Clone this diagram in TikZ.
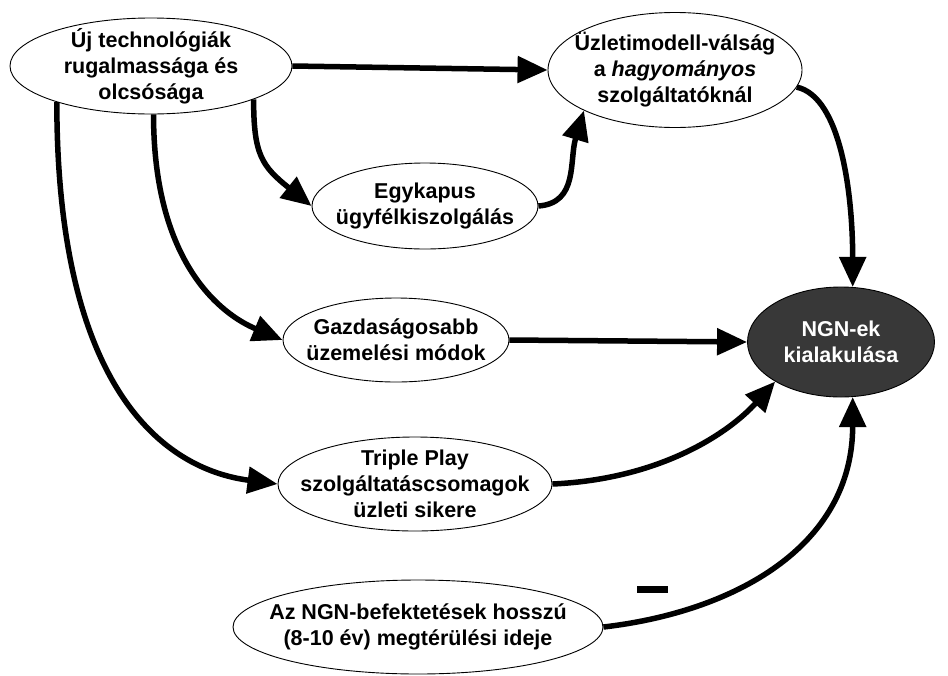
\documentclass[tikz,border=0pt]{standalone}
\usepackage{fontspec}
\setmainfont{Liberation Sans}
\usetikzlibrary{shapes.geometric,arrows.meta}
\begin{document}
\begin{tikzpicture}[x=1pt,y=1pt,
  bub/.style={ellipse,draw=black,line width=0.9pt,fill=white,inner xsep=-30pt,inner ysep=-15pt,align=center,
              font=\fontsize{21.5}{26}\selectfont\bfseries},
  con/.style={line width=5.5pt,-{Triangle[length=30pt,width=26pt]}},
  minusbar/.style={fill=black,inner sep=0pt,minimum width=31pt,minimum height=7pt},
]
\useasboundingbox (0,0) rectangle (948,-675);
\node[bub,minimum width=282pt,minimum height=96pt] (n1) at (151,-66)
  {Új technológiák\\rugalmassága és\\olcsósága};
\node[bub,minimum width=254pt,minimum height=115pt] (n2) at (675,-70)
  {Üzletimodell-válság\\a {\itshape hagyományos}\\szolgáltatóknál};
\node[bub,minimum width=226pt,minimum height=86pt] (n3) at (425,-206)
  {Egykapus\\ügyfélkiszolgálás};
\node[bub,minimum width=226pt,minimum height=84pt] (n4) at (396,-340)
  {Gazdaságosabb\\üzemelési módok};
\node[bub,minimum width=274pt,minimum height=94pt] (n5) at (415,-484)
  {Triple Play\\szolgáltatáscsomagok\\üzleti sikere};
\node[bub,minimum width=187pt,minimum height=110pt,fill=black!78,text=white] (n6) at (841,-342)
  {NGN-ek\\kialakulása};
\node[bub,minimum width=370pt,minimum height=94pt] (n7) at (418,-627)
  {Az NGN-befektetések hosszú\\(8-10 év) megtérülési ideje};
\node[minusbar] (minus) at (652,-589) {};

\draw[con] (n1.east) -- (n2.west);
\draw[con] (n1.-18) .. controls +(0,-55) and +(-50,40) .. (n3.west);
\draw[con] (n3.east) .. controls +(40,3) and +(-15,-50) .. (n2.-156);
\draw[con] (n1.-87) .. controls +(0,-150) and +(-60,25) .. (n4.west);
\draw[con] (n1.-159) .. controls +(0,-285) and +(-115,15) .. (n5.west);
\draw[con] (n4.east) -- (n6.west);
\draw[con] (n5.east) .. controls +(110,5) and +(-45,-50) .. (n6.-149);
\draw[con] (n7.east) .. controls +(130,15) and +(0,-150) .. (n6.-78);
\draw[con] (n2.-8) .. controls +(45,-10) and +(0,90) .. (n6.78);
\end{tikzpicture}
\end{document}
